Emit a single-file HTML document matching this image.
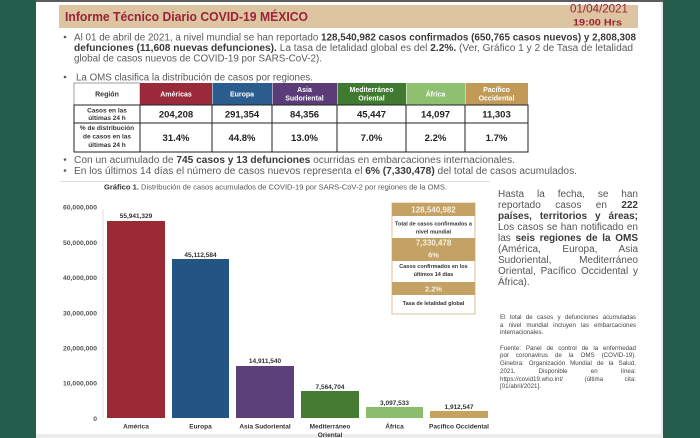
<!DOCTYPE html>
<html><head><meta charset="utf-8">
<style>
html,body{margin:0;padding:0;}
body{width:700px;height:438px;position:relative;overflow:hidden;background:#fff;font-family:"Liberation Sans",sans-serif;}
svg{position:absolute;left:0;top:0;}
.para{position:absolute;left:498px;top:189px;width:140px;font-size:10px;line-height:11px;color:#555;}
.para div,.notes div{text-align:justify;text-align-last:justify;height:11px;white-space:normal;}
.para div.l,.notes div.l{text-align-last:left;}
.para b{color:#3a3a3a;}
.notes{position:absolute;left:500px;top:314px;width:136px;font-size:6.2px;line-height:7.7px;color:#444;}
.notes div{height:7.7px;}
</style></head><body>
<svg width="700" height="438" viewBox="0 0 700 438" font-family="'Liberation Sans', sans-serif">
  <!-- side panels -->
  <rect x="0" y="0" width="36" height="438" fill="#245d4c"/>
  <rect x="663" y="0" width="37" height="438" fill="#245d4c"/>
  <rect x="661" y="0" width="2" height="438" fill="#e3ecec"/>
  <rect x="36" y="0" width="627" height="2" fill="#5c5c5c"/>
  <rect x="36" y="434" width="627" height="4" fill="#ececec"/>

  <!-- header band -->
  <rect x="59" y="5" width="579" height="23" fill="#dcc5a0"/>
  <text x="65" y="21" font-size="13" font-weight="bold" fill="#9b2237" textLength="243" lengthAdjust="spacingAndGlyphs">Informe Técnico Diario COVID-19 MÉXICO</text>
  <text x="570" y="12.5" font-size="12" fill="#9b2237" textLength="58" lengthAdjust="spacingAndGlyphs">01/04/2021</text>
  <text x="573" y="25.5" font-size="9" font-weight="bold" fill="#9b2237" textLength="49" lengthAdjust="spacingAndGlyphs">19:00 Hrs</text>

  <!-- paragraph 1 -->
  <g fill="#5b5b5b" font-size="10">
    <circle cx="65" cy="37" r="1.3"/>
    <text x="74" y="40.5" textLength="562" lengthAdjust="spacingAndGlyphs">Al 01 de abril de 2021, a nivel mundial se han reportado <tspan font-weight="bold" fill="#3a3a3a">128,540,982 casos confirmados (650,765 casos nuevos) y 2,808,308</tspan></text>
    <text x="74" y="51" textLength="559" lengthAdjust="spacingAndGlyphs"><tspan font-weight="bold" fill="#3a3a3a">defunciones (11,608 nuevas defunciones).</tspan>  La tasa de letalidad global es del <tspan font-weight="bold" fill="#3a3a3a">2.2%.</tspan> (Ver, Gráfico 1 y 2 de Tasa de letalidad</text>
    <text x="74" y="61.5" textLength="248" lengthAdjust="spacingAndGlyphs">global de casos nuevos de COVID-19 por SARS-CoV-2).</text>
    <circle cx="65" cy="77" r="1.3"/>
    <text x="76" y="80.5" textLength="237" lengthAdjust="spacingAndGlyphs">La OMS clasifica la distribución de casos por regiones.</text>
    <circle cx="65" cy="159.5" r="1.3"/>
    <text x="74" y="163" textLength="441" lengthAdjust="spacingAndGlyphs">Con un acumulado de <tspan font-weight="bold" fill="#3a3a3a">745 casos y 13 defunciones</tspan> ocurridas en embarcaciones internacionales.</text>
    <circle cx="65" cy="170.5" r="1.3"/>
    <text x="74" y="174" textLength="503" lengthAdjust="spacingAndGlyphs">En los últimos 14 días el número de casos nuevos representa el <tspan font-weight="bold" fill="#3a3a3a">6% (7,330,478)</tspan> del total de casos acumulados.</text>
  </g>

  <!-- table -->
  <g>
    <rect x="74" y="83" width="66" height="22" fill="#fff" stroke="#888" stroke-width="0.8"/>
    <rect x="140" y="83" width="72" height="22" fill="#9a2a3a"/>
    <rect x="212.5" y="83" width="59.5" height="22" fill="#2a5c8e"/>
    <rect x="272.5" y="83" width="64.5" height="22" fill="#5a3d78"/>
    <rect x="337.5" y="83" width="68.5" height="22" fill="#3f7a30"/>
    <rect x="406.5" y="83" width="58.5" height="22" fill="#8fc070"/>
    <rect x="465.5" y="83" width="62.5" height="22" fill="#c29a57"/>
    <rect x="74" y="105" width="454" height="47" fill="#fff" stroke="#222" stroke-width="1"/>
    <line x1="74" y1="123" x2="528" y2="123" stroke="#222" stroke-width="1"/>
    <g stroke="#222" stroke-width="1">
      <line x1="140" y1="105" x2="140" y2="152"/>
      <line x1="212" y1="105" x2="212" y2="152"/>
      <line x1="272" y1="105" x2="272" y2="152"/>
      <line x1="337" y1="105" x2="337" y2="152"/>
      <line x1="406" y1="105" x2="406" y2="152"/>
      <line x1="465" y1="105" x2="465" y2="152"/>
    </g>
    <g font-weight="bold" font-size="7" text-anchor="middle">
      <text x="107" y="96.5" fill="#333">Región</text>
      <text x="176" y="96.5" fill="#fff">Américas</text>
      <text x="242" y="96.5" fill="#fff">Europa</text>
      <text x="304.5" y="92" fill="#fff">Asia</text>
      <text x="304.5" y="100.5" fill="#fff">Sudoriental</text>
      <text x="371.5" y="92" fill="#fff">Mediterráneo</text>
      <text x="371.5" y="100.5" fill="#fff">Oriental</text>
      <text x="435.5" y="96.5" fill="#fff">África</text>
      <text x="496.5" y="92" fill="#fff">Pacífico</text>
      <text x="496.5" y="100.5" fill="#fff">Occidental</text>
    </g>
    <g font-weight="bold" font-size="6.5" text-anchor="middle" fill="#333">
      <text x="107" y="112.5">Casos en las</text>
      <text x="107" y="120">últimas 24 h</text>
      <text x="107" y="130">% de distribución</text>
      <text x="107" y="138.5">de casos en las</text>
      <text x="107" y="147">últimas 24 h</text>
    </g>
    <g font-weight="bold" font-size="9.5" text-anchor="middle" fill="#222">
      <text x="176" y="117.5">204,208</text>
      <text x="242" y="117.5">291,354</text>
      <text x="304.5" y="117.5">84,356</text>
      <text x="371.5" y="117.5">45,447</text>
      <text x="435.5" y="117.5">14,097</text>
      <text x="496.5" y="117.5">11,303</text>
      <text x="176" y="141">31.4%</text>
      <text x="242" y="141">44.8%</text>
      <text x="304.5" y="141">13.0%</text>
      <text x="371.5" y="141">7.0%</text>
      <text x="435.5" y="141">2.2%</text>
      <text x="496.5" y="141">1.7%</text>
    </g>
  </g>

  <!-- separator and chart title -->
  <line x1="60" y1="181.5" x2="490" y2="181.5" stroke="#ddd" stroke-width="1"/>
  <text x="104" y="189.5" font-size="7" fill="#555" textLength="343" lengthAdjust="spacingAndGlyphs"><tspan font-weight="bold" fill="#333">Gráfico 1.</tspan>  Distribución de casos acumulados de COVID-19 por SARS-CoV-2 por regiones de la OMS.</text>

  <!-- y axis -->
  <line x1="103" y1="209" x2="103" y2="418" stroke="#e2e2e2" stroke-width="1"/>
  <g font-size="6.8" font-weight="bold" fill="#555" text-anchor="end">
    <text x="97" y="209.5">60,000,000</text>
    <text x="97" y="244.8">50,000,000</text>
    <text x="97" y="280">40,000,000</text>
    <text x="97" y="315.3">30,000,000</text>
    <text x="97" y="350.5">20,000,000</text>
    <text x="97" y="385.7">10,000,000</text>
    <text x="97" y="420.9">0</text>
  </g>

  <!-- bars -->
  <rect x="107" y="221" width="58" height="197" fill="#9a2b35"/>
  <rect x="172" y="259" width="57" height="159" fill="#225484"/>
  <rect x="236" y="366" width="58" height="52" fill="#5c4079"/>
  <rect x="301" y="391" width="58" height="27" fill="#457b33"/>
  <rect x="366" y="407" width="57" height="11" fill="#8cbd6c"/>
  <rect x="430" y="411" width="58" height="7" fill="#c5a25e"/>

  <g font-size="6.5" font-weight="bold" fill="#333" text-anchor="middle">
    <text x="136" y="218">55,941,329</text>
    <text x="200.5" y="257">45,112,584</text>
    <text x="265" y="363">14,911,540</text>
    <text x="330" y="389">7,564,704</text>
    <text x="394.5" y="405">3,097,533</text>
    <text x="459" y="409">1,912,547</text>
    <text x="136" y="428.5">América</text>
    <text x="200.5" y="428.5">Europa</text>
    <text x="265" y="428.5">Asia Sudoriental</text>
    <text x="330" y="428.5">Mediterráneo</text>
    <text x="330" y="437">Oriental</text>
    <text x="394.5" y="428.5">África</text>
    <text x="459" y="428.5">Pacífico Occidental</text>
  </g>

  <!-- info box -->
  <rect x="392" y="203" width="83" height="111" fill="#fff" stroke="#dcc397" stroke-width="1"/>
  <rect x="392" y="203" width="83" height="13" fill="#c4a265"/>
  <rect x="392" y="238" width="83" height="23" fill="#c4a265"/>
  <rect x="392" y="282" width="83" height="13" fill="#c4a265"/>
  <g text-anchor="middle" font-weight="bold">
    <text x="433.5" y="212.5" font-size="8" fill="#f7efe0">128,540,982</text>
    <text x="433.5" y="225.5" font-size="5.5" fill="#333">Total de casos confirmados a</text>
    <text x="433.5" y="233.5" font-size="5.5" fill="#333">nivel mundial</text>
    <text x="433.5" y="245.5" font-size="8" fill="#f7efe0">7,330,478</text>
    <text x="433.5" y="257.5" font-size="7.5" fill="#f7efe0">6%</text>
    <text x="433.5" y="268" font-size="5.5" fill="#333">Casos confirmados en los</text>
    <text x="433.5" y="276" font-size="5.5" fill="#333">últimos 14 días</text>
    <text x="433.5" y="291.5" font-size="7.5" fill="#f7efe0">2.2%</text>
    <text x="433.5" y="305" font-size="5.5" fill="#333">Tasa de letalidad global</text>
  </g>
</svg>

<div class="para">
  <div>Hasta la fecha, se han</div>
  <div>reportado casos en <b>222</b></div>
  <div><b>países, territorios y áreas;</b></div>
  <div>Los casos se han notificado en</div>
  <div>las <b>seis regiones de la OMS</b></div>
  <div>(América, Europa, Asia</div>
  <div>Sudoriental, Mediterráneo</div>
  <div>Oriental, Pacífico Occidental y</div>
  <div class="l">África).</div>
</div>

<div class="notes">
  <div>El total de casos y defunciones acumuladas</div>
  <div>a nivel mundial incluyen las embarcaciones</div>
  <div class="l">internacionales.</div>
  <div class="l">&nbsp;</div>
  <div>Fuente: Panel de control de la enfermedad</div>
  <div>por coronavirus de la OMS (COVID-19).</div>
  <div>Ginebra: Organización Mundial de la Salud,</div>
  <div>2021. Disponible en línea:</div>
  <div>https://covid19.who.int/ (última cita:</div>
  <div class="l">[01/abril/2021].</div>
</div>
</body></html>
